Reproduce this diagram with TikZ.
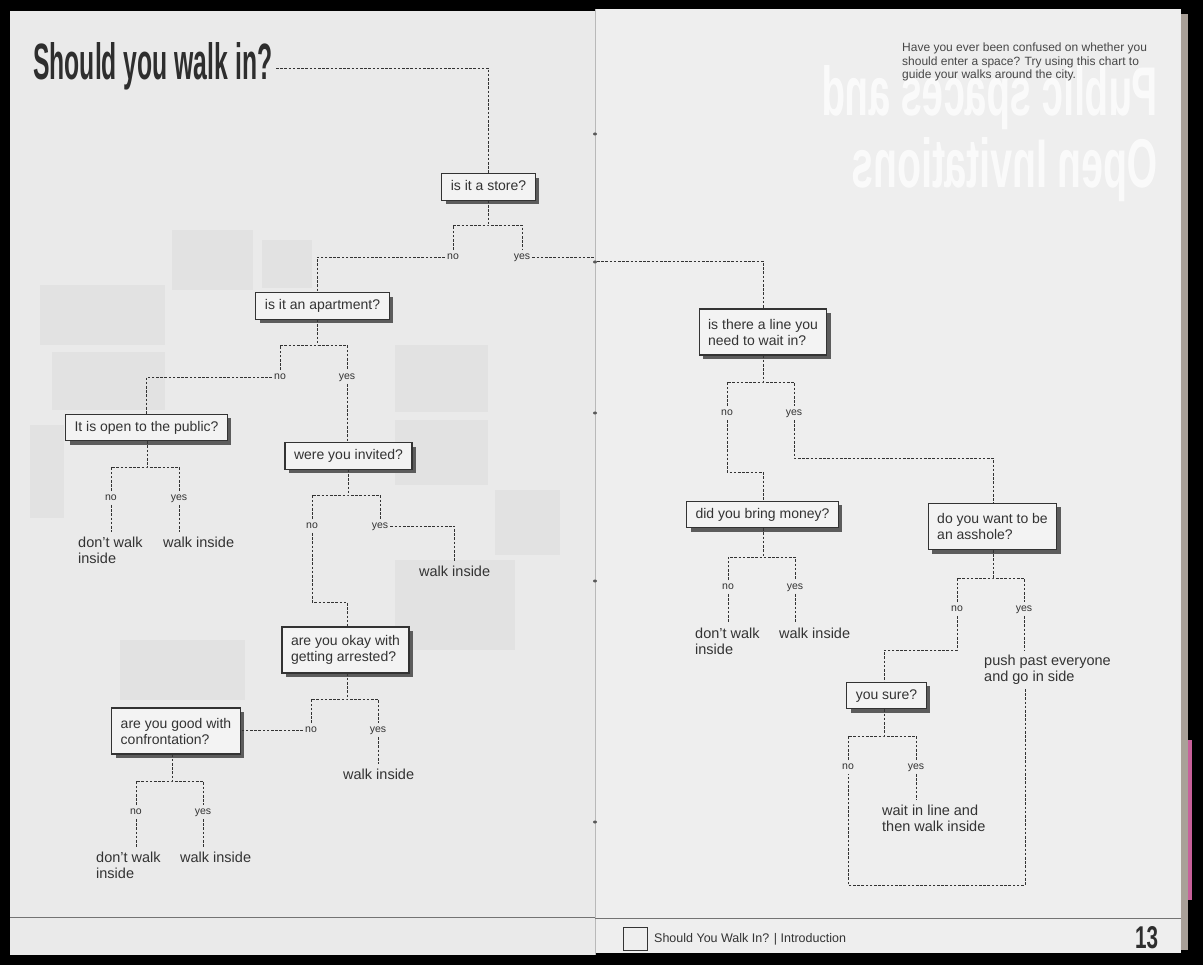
\documentclass[tikz,border=0pt]{standalone}
\usepackage{fontspec}
\setmainfont{Liberation Sans}
\usetikzlibrary{shadows}
\definecolor{ink}{HTML}{333333}
\definecolor{pageL}{HTML}{EAEAEA}
\definecolor{pageR}{HTML}{EEEEEE}
\definecolor{ghostblk}{HTML}{E2E2E2}
\definecolor{boxfill}{HTML}{F3F3F3}
\definecolor{shadowc}{HTML}{5C5C5C}
\definecolor{edge}{HTML}{A9A098}
\definecolor{pinkedge}{HTML}{C8609A}
\begin{document}
\begin{tikzpicture}[x=1pt,y=-1pt,
  qbox/.style={draw=ink, line width=1.1pt, fill=boxfill, text=ink,
    font=\fontsize{14}{16}\selectfont, inner xsep=9pt, inner ysep=6.5pt, align=left,
    drop shadow={shadow xshift=4pt, shadow yshift=-4pt, fill=shadowc, opacity=1}},
  onebox/.style={qbox, text height=10.5pt, text depth=3pt},
  twobox/.style={qbox, minimum height=46pt},
  lab/.style={font=\fontsize{10.5}{12}\selectfont, text=ink, inner sep=2pt, text height=7.5pt, text depth=2pt},
  res/.style={font=\fontsize{14.5}{16}\selectfont, text=ink, inner sep=0pt, align=left, anchor=north west},
  conn/.style={draw=ink, line width=0.8pt, dash pattern=on 2.6pt off 1.6pt},
  gap/.style={shorten >=5pt},
  gapb/.style={shorten <=4pt}
]
% ---------- paper ----------
\fill[black] (0,0) rectangle (1203,965);
\fill[pageL] (10,11) rectangle (595,955);
\fill[pageR] (595,9) rectangle (1181,953);
\fill[edge] (1181,14) rectangle (1188,950);
\fill[pinkedge] (1188,740) rectangle (1192,900);
% faint show-through blocks on the left page
\foreach \a/\b/\c/\d in {172/230/253/290, 40/285/165/345, 262/240/312/288, 395/345/488/412,
   395/420/488/485, 30/425/64/518, 52/352/165/410, 120/640/245/700, 395/560/515/650, 495/490/560/555}
   \fill[ghostblk] (\a,\b) rectangle (\c,\d);
\draw[gray!55, line width=0.7pt] (595,9) -- (595,955);
\foreach \yy in {134,262,413,581,822} \fill[black!65] (595,\yy) ellipse (2 and 1.5);
\draw[black!55, line width=0.9pt] (10,917) -- (595,917);
\draw[black!55, line width=0.9pt] (595,918) -- (1181,918);

% ghost show-through title (mirrored)
\node[text=white, opacity=0.75, inner sep=0pt, anchor=base east] (ghostA) at (1158,116)
  {\scalebox{-1}[1]{\resizebox{336pt}{50pt}{\bfseries Public spaces and}}};
\node[text=white, opacity=0.75, inner sep=0pt, anchor=base east] (ghostB) at (1158,188)
  {\scalebox{-1}[1]{\resizebox{306pt}{50pt}{\bfseries Open Invitations}}};

% ---------- title & intro ----------
\node[inner sep=0pt, anchor=base west, text=black!82] (title) at (33,80)
  {\resizebox{239pt}{37pt}{\bfseries Should you walk in?}};
\coordinate (t0) at (276,68);
\node[inner sep=0pt, anchor=north west, align=left, text=ink!90,
  font=\fontsize{12}{13.7}\selectfont] (intro) at (902,42.5)
  {Have you ever been confused on whether you\\should enter a space? Try using this chart to\\guide your walks around the city.};

% ---------- footer ----------
\node[draw=ink, line width=1pt, minimum width=24pt, minimum height=23pt, inner sep=0pt] (sq) at (635.5,938.5) {};
\node[inner sep=0pt, anchor=base west, text=ink, font=\fontsize{12.5}{14}\selectfont] (foot) at (654,942.5)
  {Should You Walk In? | Introduction};
\node[inner sep=0pt, anchor=base west, text=black!82] (pnum) at (1135,948)
  {\resizebox{23pt}{22pt}{\bfseries 13}};

% ---------- question boxes ----------
\node[onebox] (store) at (488.5,187) {is it a store?};
\node[onebox] (apt) at (322.5,306) {is it an apartment?};
\node[onebox] (pub) at (146.5,427.5) {It is open to the public?};
\node[onebox] (inv) at (348.5,456) {were you invited?};
\node[twobox] (arr) at (345.5,650) {are you okay with\\getting arrested?};
\node[twobox] (conf) at (176,731) {are you good with\\confrontation?};
\node[twobox] (line) at (763,332) {is there a line you\\need to wait in?};
\node[onebox] (money) at (762.5,514.5) {did you bring money?};
\node[twobox] (ass) at (992.5,526.5) {do you want to be\\an asshole?};
\node[onebox] (sure) at (886.5,695.5) {you sure?};

% ---------- labels ----------
\node[lab] (sNo) at (453,257) {no};   \node[lab] (sYes) at (522,257) {yes};
\node[lab] (aNo) at (280,377) {no};   \node[lab] (aYes) at (347,377) {yes};
\node[lab] (pNo) at (111,498) {no};   \node[lab] (pYes) at (179,498) {yes};
\node[lab] (iNo) at (312,526) {no};   \node[lab] (iYes) at (380,526) {yes};
\node[lab] (rNo) at (311,730) {no};   \node[lab] (rYes) at (378,730) {yes};
\node[lab] (cNo) at (136,812) {no};   \node[lab] (cYes) at (203,812) {yes};
\node[lab] (lNo) at (727,413) {no};   \node[lab] (lYes) at (794,413) {yes};
\node[lab] (mNo) at (728,587) {no};   \node[lab] (mYes) at (795,587) {yes};
\node[lab] (asNo) at (957,609) {no};  \node[lab] (asYes) at (1024,609) {yes};
\node[lab] (suNo) at (848,767) {no};  \node[lab] (suYes) at (916,767) {yes};

% ---------- results ----------
\node[res] (r1) at (78,537) {don't walk\\inside};
\node[res] (r2) at (163,537) {walk inside};
\node[res] (r3) at (419,566) {walk inside};
\node[res] (r4) at (343,769) {walk inside};
\node[res] (r5) at (96,852) {don't walk\\inside};
\node[res] (r6) at (180,852) {walk inside};
\node[res] (r7) at (695,628) {don't walk\\inside};
\node[res] (r8) at (779,628) {walk inside};
\node[res] (r9) at (984,655) {push past everyone\\and go in side};
\node[res] (r10) at (882,805) {wait in line and\\then walk inside};

% ---------- connectors ----------
% title -> store
\draw[conn] (t0) -| (store.north);
% store
\coordinate (sj) at (488,225);
\draw[conn] (sj |- store.south) -- (sj);
\draw[conn] (sNo.north) |- (sj) -| (sYes.north);
\coordinate (ax) at (317,0);
\draw[conn] (sNo.west) -| (ax |- apt.north);
\coordinate (g1) at (594,257);
\coordinate (g2) at (597,261);
\draw[conn] (sYes.east) -- (g1) (g2) -| (line.north);
% apartment
\coordinate (aj) at (317,345);
\draw[conn] (aj |- apt.south) -- (aj);
\draw[conn] (aNo.north) |- (aj) -| (aYes.north);
\draw[conn] (aNo.west) -| (pub.north);
\draw[conn] (aYes.south) -- (aYes.south |- inv.north);
% public
\coordinate (pj) at (147,467);
\draw[conn] (pj |- pub.south) -- (pj);
\draw[conn] (pNo.north) |- (pj) -| (pYes.north);
\draw[conn,gap] (pNo.south) -- (pNo.south |- r1.north);
\draw[conn,gap] (pYes.south) -- (pYes.south |- r2.north);
% invited
\coordinate (ij) at (348,495);
\draw[conn] (ij |- inv.south) -- (ij);
\draw[conn] (iNo.north) |- (ij) -| (iYes.north);
\draw[conn,gap] (iYes.east) -| (r3.north);
\coordinate (ik) at (347,602);
\draw[conn] (iNo.south) |- (ik) -- (ik |- arr.north);
% arrested
\coordinate (rj) at (347,699);
\draw[conn] (rj |- arr.south) -- (rj);
\draw[conn] (rNo.north) |- (rj) -| (rYes.north);
\draw[conn] (rNo.west) -- (rNo.west -| conf.east);
\draw[conn,gap] (rYes.south) -- (rYes.south |- r4.north);
% confrontation
\coordinate (cj) at (172,781);
\draw[conn] (cj |- conf.south) -- (cj);
\draw[conn] (cNo.north) |- (cj) -| (cYes.north);
\draw[conn,gap] (cNo.south) -- (cNo.south |- r5.north);
\draw[conn,gap] (cYes.south) -- (cYes.south |- r6.north);
% line
\coordinate (lj) at (763,382);
\draw[conn] (lj |- line.south) -- (lj);
\draw[conn] (lNo.north) |- (lj) -| (lYes.north);
\coordinate (lk) at (763,472);
\draw[conn] (lNo.south) |- (lk) -- (lk |- money.north);
\coordinate (lk2) at (993,458);
\draw[conn] (lYes.south) |- (lk2) -- (lk2 |- ass.north);
% money
\coordinate (mj) at (763,557);
\draw[conn] (mj |- money.south) -- (mj);
\draw[conn] (mNo.north) |- (mj) -| (mYes.north);
\draw[conn,gap] (mNo.south) -- (mNo.south |- r7.north);
\draw[conn,gap] (mYes.south) -- (mYes.south |- r8.north);
% asshole
\coordinate (asj) at (993,578);
\draw[conn] (asj |- ass.south) -- (asj);
\draw[conn] (asNo.north) |- (asj) -| (asYes.north);
\coordinate (ask) at (884,650);
\draw[conn] (asNo.south) |- (ask) -- (ask |- sure.north);
\draw[conn,gap] (asYes.south) -- (asYes.south |- r9.north);
\coordinate (lp) at (1025,885);
\draw[conn,gapb] (lp |- r9.south) -- (lp) -| (suNo.south);
% sure
\coordinate (suj) at (884,736);
\draw[conn] (suj |- sure.south) -- (suj);
\draw[conn] (suNo.north) |- (suj) -| (suYes.north);
\draw[conn,gap] (suYes.south) -- (suYes.south |- r10.north);
\end{tikzpicture}
\end{document}
